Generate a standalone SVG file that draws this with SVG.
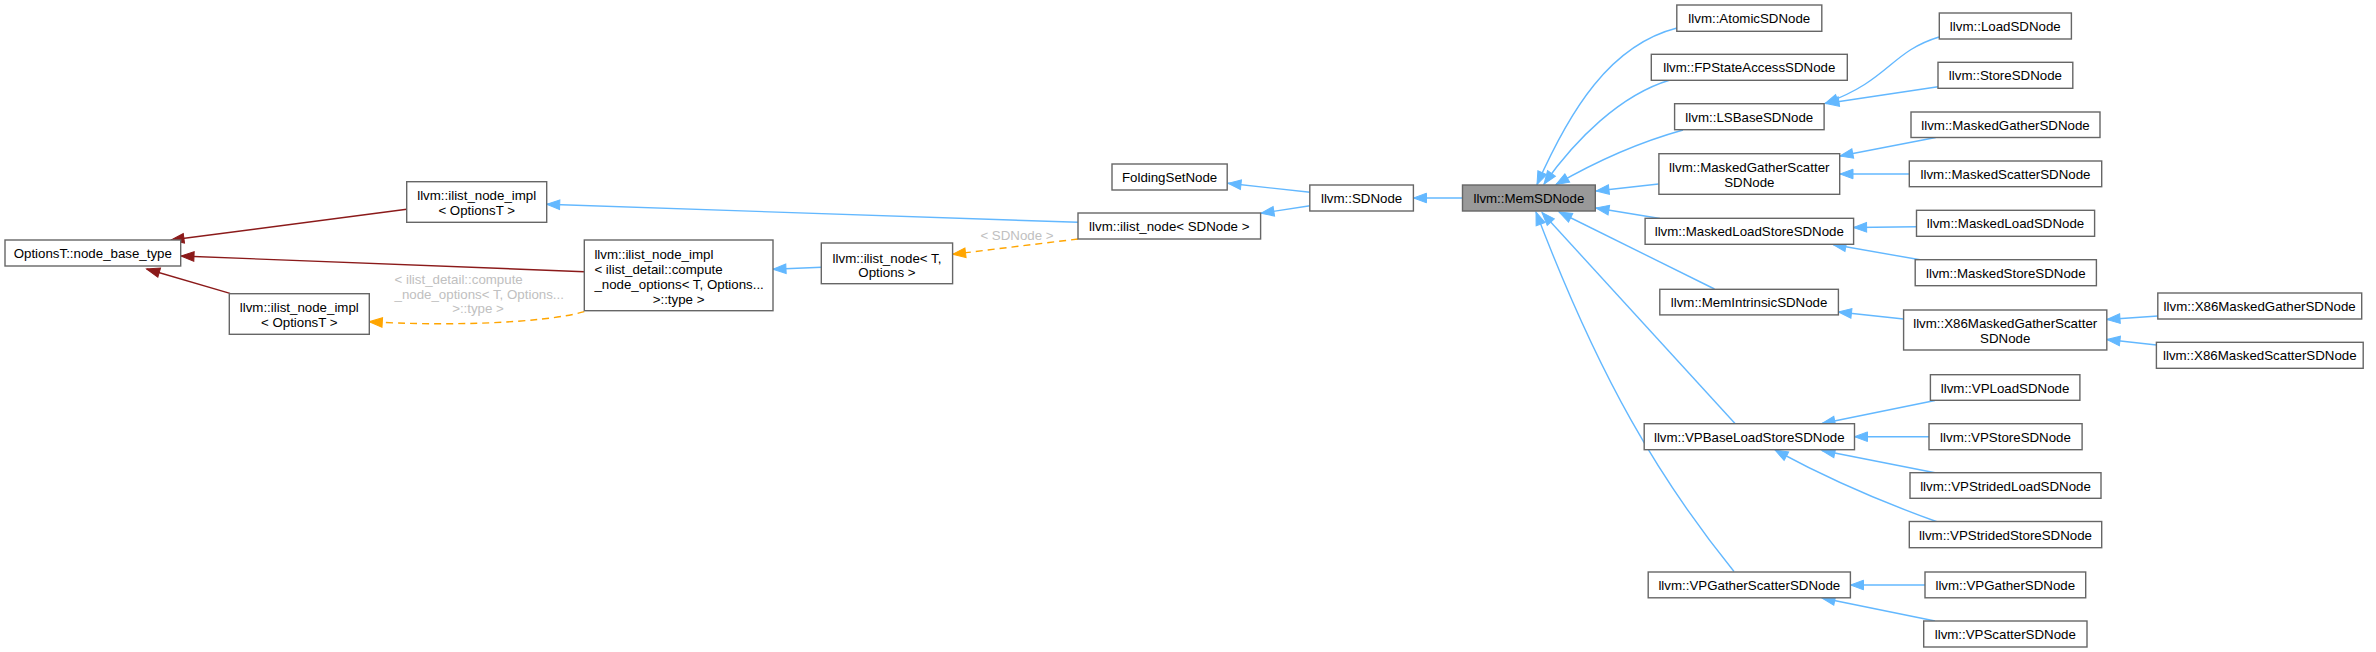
<svg xmlns="http://www.w3.org/2000/svg" width="2376" height="652" viewBox="0 0 2376 652">
<style>
.n rect{fill:#ffffff;stroke:#666666;stroke-width:1.4}
.n.hl rect{fill:#999999}
text{font-family:"Liberation Sans",Arial,Helvetica,sans-serif;font-size:13.3px;fill:#000000}
.n text{text-anchor:middle}
.n text.l{text-anchor:start}
.e path{fill:none;stroke-width:1.4}
.blue{stroke:#63b8ff;marker-end:url(#ab)}
.red{stroke:#8b1a1a;marker-end:url(#ar)}
.org{stroke:#ffa500;stroke-dasharray:7,5;marker-end:url(#ao)}
.lbl{fill:#c0c0c0}
</style>
<defs>
<marker id="ab" viewBox="-14 -6 16 12" markerWidth="16" markerHeight="12" refX="0" refY="0" orient="auto" markerUnits="userSpaceOnUse" overflow="visible"><path d="M0,0 L-13,-4.8 L-13,4.8 Z" fill="#63b8ff" stroke="#63b8ff" stroke-width="1"/></marker>
<marker id="ar" viewBox="-14 -6 16 12" markerWidth="16" markerHeight="12" refX="0" refY="0" orient="auto" markerUnits="userSpaceOnUse" overflow="visible"><path d="M0,0 L-13,-4.8 L-13,4.8 Z" fill="#8b1a1a" stroke="#8b1a1a" stroke-width="1"/></marker>
<marker id="ao" viewBox="-14 -6 16 12" markerWidth="16" markerHeight="12" refX="0" refY="0" orient="auto" markerUnits="userSpaceOnUse" overflow="visible"><path d="M0,0 L-13,-4.8 L-13,4.8 Z" fill="#ffa500" stroke="#ffa500" stroke-width="1"/></marker>
</defs>
<rect x="0" y="0" width="2376" height="652" fill="#ffffff"/>
<g id="edges" class="e">
<path class="red" d="M406.7,209.3 L171,240"/>
<path class="red" d="M584.3,271.7 L181,256"/>
<path class="red" d="M230,293.3 L146.7,269"/>
<path class="blue" d="M1078,222.3 L546.7,204.3"/>
<path class="blue" d="M821.5,267.3 L773,269.3"/>
<path class="org" d="M1078,239 L952.6,254.3"/>
<text class="lbl" x="1017" y="240" text-anchor="middle">&lt; SDNode &gt;</text>
<path class="org" d="M584.3,311.7 C540,324 440,326 369.3,321.7"/>
<text class="lbl" x="394.5" y="284">&lt; ilist_detail::compute</text>
<text class="lbl" x="394.5" y="298.7">_node_options&lt; T, Options...</text>
<text class="lbl" x="478" y="313.4" text-anchor="middle">&gt;::type &gt;</text>
<path class="blue" d="M1310,192.3 L1228,183.3"/>
<path class="blue" d="M1310,205.7 L1261,213.3"/>
<path class="blue" d="M1462.5,198 L1413.5,198"/>
<path class="blue" d="M1677,28 C1610,45 1570,110 1537,184.5"/>
<path class="blue" d="M1670,80 C1620,95 1575,140 1544,184"/>
<path class="blue" d="M1683,130 C1640,142 1595,162 1556,184.5"/>
<path class="blue" d="M1658.5,184 L1596,191"/>
<path class="blue" d="M1660,218.5 L1596,208"/>
<path class="blue" d="M1714.5,289 L1559,212"/>
<path class="blue" d="M1735,423.5 L1542,212.5"/>
<path class="blue" d="M1734,571.5 C1660,480 1600,380 1536,212"/>
<path class="blue" d="M1939,37 C1890,52 1890,80 1825,103.5"/>
<path class="blue" d="M1938,86.7 L1826,103.5"/>
<path class="blue" d="M1935.7,137.5 L1840,156"/>
<path class="blue" d="M1909.5,174 L1840,174"/>
<path class="blue" d="M1916.5,226.7 L1853.6,227.5"/>
<path class="blue" d="M1920,259.8 L1833,244.5"/>
<path class="blue" d="M1903.6,319 L1838.5,312"/>
<path class="blue" d="M2158,316 L2107,319.5"/>
<path class="blue" d="M2156.5,345 L2107,339.5"/>
<path class="blue" d="M1935,400.5 L1822,423.5"/>
<path class="blue" d="M1929,436.7 L1854.5,436.7"/>
<path class="blue" d="M1935,472.8 L1822,450.5"/>
<path class="blue" d="M1939,522.5 C1890,505 1830,480 1775,450"/>
<path class="blue" d="M1925,585 L1850.5,585"/>
<path class="blue" d="M1935,621 L1822,598"/>
</g>
<g id="node_base_type" class="n"><rect x="5" y="240" width="175.7" height="26"/><text x="92.8" y="258">OptionsT::node_base_type</text></g>
<g id="ilist_node_impl_top" class="n"><rect x="406.7" y="181.7" width="140" height="40.6"/><text x="476.7" y="199.5">llvm::ilist_node_impl</text><text x="476.7" y="214.5">&lt; OptionsT &gt;</text></g>
<g id="ilist_node_impl_detail" class="n"><rect x="584.3" y="240" width="188.7" height="70.7"/><text class="l" x="594.4" y="259">llvm::ilist_node_impl</text><text class="l" x="594.4" y="274">&lt; ilist_detail::compute</text><text class="l" x="594.4" y="289">_node_options&lt; T, Options...</text><text x="678.6" y="304">&gt;::type &gt;</text></g>
<g id="ilist_node_impl_bottom" class="n"><rect x="229.3" y="293.7" width="140" height="40.6"/><text x="299.3" y="311.5">llvm::ilist_node_impl</text><text x="299.3" y="326.5">&lt; OptionsT &gt;</text></g>
<g id="ilist_node_T" class="n"><rect x="821.3" y="243" width="131.3" height="40.7"/><text x="887" y="262.8">llvm::ilist_node&lt; T,</text><text x="887" y="277.3">Options &gt;</text></g>
<g id="ilist_node_SDNode" class="n"><rect x="1078" y="213" width="182.6" height="26"/><text x="1169.3" y="231">llvm::ilist_node&lt; SDNode &gt;</text></g>
<g id="FoldingSetNode" class="n"><rect x="1112" y="164" width="115.2" height="26"/><text x="1169.6" y="182">FoldingSetNode</text></g>
<g id="SDNode" class="n"><rect x="1309.8" y="185" width="103.6" height="26"/><text x="1361.6" y="203">llvm::SDNode</text></g>
<g id="MemSDNode" class="n hl"><rect x="1462.5" y="185" width="132.8" height="26"/><text x="1528.9" y="203">llvm::MemSDNode</text></g>
<g id="AtomicSDNode" class="n"><rect x="1676.8" y="5" width="145" height="26.3"/><text x="1749.3" y="23">llvm::AtomicSDNode</text></g>
<g id="FPStateAccessSDNode" class="n"><rect x="1651.3" y="54.3" width="196" height="26"/><text x="1749.3" y="72.3">llvm::FPStateAccessSDNode</text></g>
<g id="LSBaseSDNode" class="n"><rect x="1674.6" y="103.7" width="149.5" height="26"/><text x="1749.3" y="121.7">llvm::LSBaseSDNode</text></g>
<g id="MaskedGatherScatterSDNode" class="n"><rect x="1658.9" y="153.7" width="180.8" height="40.6"/><text x="1749.3" y="171.5">llvm::MaskedGatherScatter</text><text x="1749.3" y="186.5">SDNode</text></g>
<g id="MaskedLoadStoreSDNode" class="n"><rect x="1645.1" y="218.3" width="208.5" height="26"/><text x="1749.3" y="236.3">llvm::MaskedLoadStoreSDNode</text></g>
<g id="MemIntrinsicSDNode" class="n"><rect x="1659.8" y="289.3" width="178.6" height="25.6"/><text x="1749.1" y="307.1">llvm::MemIntrinsicSDNode</text></g>
<g id="VPBaseLoadStoreSDNode" class="n"><rect x="1644.2" y="423.7" width="210.3" height="26"/><text x="1749.3" y="441.7">llvm::VPBaseLoadStoreSDNode</text></g>
<g id="VPGatherScatterSDNode" class="n"><rect x="1648.2" y="572" width="202.2" height="25.8"/><text x="1749.3" y="589.9">llvm::VPGatherScatterSDNode</text></g>
<g id="LoadSDNode" class="n"><rect x="1939.3" y="13" width="132.1" height="26"/><text x="2005.3" y="31">llvm::LoadSDNode</text></g>
<g id="StoreSDNode" class="n"><rect x="1938" y="62.3" width="134.8" height="26"/><text x="2005.4" y="80.3">llvm::StoreSDNode</text></g>
<g id="MaskedGatherSDNode" class="n"><rect x="1911" y="112" width="189" height="25.5"/><text x="2005.5" y="129.8">llvm::MaskedGatherSDNode</text></g>
<g id="MaskedScatterSDNode" class="n"><rect x="1909.3" y="161" width="192.4" height="25.7"/><text x="2005.5" y="178.9">llvm::MaskedScatterSDNode</text></g>
<g id="MaskedLoadSDNode" class="n"><rect x="1916.5" y="210.3" width="178.1" height="26"/><text x="2005.5" y="228.3">llvm::MaskedLoadSDNode</text></g>
<g id="MaskedStoreSDNode" class="n"><rect x="1915.2" y="259.7" width="181.2" height="26"/><text x="2005.8" y="277.7">llvm::MaskedStoreSDNode</text></g>
<g id="X86MaskedGatherScatterSDNode" class="n"><rect x="1903.6" y="310" width="203.2" height="40"/><text x="2005.2" y="327.8">llvm::X86MaskedGatherScatter</text><text x="2005.2" y="342.8">SDNode</text></g>
<g id="X86MaskedGatherSDNode" class="n"><rect x="2157.8" y="293" width="203.9" height="26"/><text x="2259.7" y="311">llvm::X86MaskedGatherSDNode</text></g>
<g id="X86MaskedScatterSDNode" class="n"><rect x="2156.4" y="342.3" width="206.8" height="26"/><text x="2259.8" y="360.3">llvm::X86MaskedScatterSDNode</text></g>
<g id="VPLoadSDNode" class="n"><rect x="1930.4" y="374.7" width="149.5" height="25.6"/><text x="2005.1" y="392.5">llvm::VPLoadSDNode</text></g>
<g id="VPStoreSDNode" class="n"><rect x="1929" y="423.7" width="153.1" height="26"/><text x="2005.5" y="441.7">llvm::VPStoreSDNode</text></g>
<g id="VPStridedLoadSDNode" class="n"><rect x="1910" y="472.7" width="191" height="25.6"/><text x="2005.5" y="490.5">llvm::VPStridedLoadSDNode</text></g>
<g id="VPStridedStoreSDNode" class="n"><rect x="1909.3" y="521.5" width="192.4" height="26.2"/><text x="2005.5" y="539.6">llvm::VPStridedStoreSDNode</text></g>
<g id="VPGatherSDNode" class="n"><rect x="1925" y="572" width="160.7" height="25.8"/><text x="2005.3" y="589.9">llvm::VPGatherSDNode</text></g>
<g id="VPScatterSDNode" class="n"><rect x="1923.7" y="621" width="163.3" height="26"/><text x="2005.3" y="639">llvm::VPScatterSDNode</text></g>
</svg>
